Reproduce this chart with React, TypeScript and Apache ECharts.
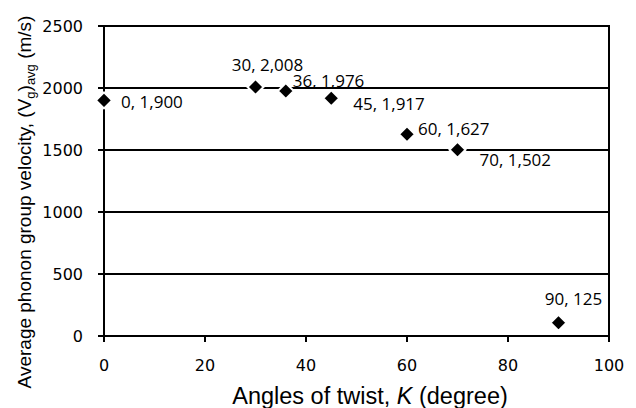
import React, { useEffect, useRef } from "react";
import * as echarts from "echarts";

const twistAngles = [0, 30, 36, 45, 60, 70, 90];
const groupVelocity = [1900, 2008, 1976, 1917, 1627, 1502, 107];
const pointLabels = ["0, 1,900", "30, 2,008", "36, 1,976", "45, 1,917", "60, 1,627", "70, 1,502", "90, 125"];
const xTicks = [0, 20, 40, 60, 80, 100];
const yTicks = [0, 500, 1000, 1500, 2000, 2500];

const labelPlacement: { position: string; offset: [number, number] }[] = [
  { position: "right", offset: [3, 1] },
  { position: "top", offset: [12, 0] },
  { position: "right", offset: [-7, -10] },
  { position: "right", offset: [8, 5] },
  { position: "right", offset: [-3, -6] },
  { position: "right", offset: [8, 10] },
  { position: "top", offset: [15, -2] },
];

export default function App() {
  const ref = useRef<HTMLDivElement>(null);
  useEffect(() => {
    if (!ref.current) return;
    const chart = echarts.init(ref.current, undefined, { renderer: "svg" });
    const data = twistAngles.map((x, i) => ({
      value: [x, groupVelocity[i]],
      label: {
        show: true,
        position: labelPlacement[i].position,
        offset: labelPlacement[i].offset,
        formatter: pointLabels[i],
      },
    }));
    chart.setOption({
      animation: false,
      backgroundColor: "#fff",
      grid: {
        left: 104,
        right: 27,
        top: 26,
        bottom: 72,
        show: true,
        borderColor: "#000",
        borderWidth: 2,
      },
      xAxis: {
        type: "value",
        min: xTicks[0],
        max: xTicks[xTicks.length - 1],
        interval: 20,
        axisLine: { show: true, onZero: false, lineStyle: { color: "#000", width: 2 } },
        axisTick: { show: true, length: 6, lineStyle: { color: "#000", width: 2 } },
        axisLabel: { color: "#000", fontFamily: "DejaVu Sans", fontSize: 16, margin: 21, formatter: (v: number) => String(v) },
        splitLine: { show: false },
      },
      yAxis: {
        type: "value",
        min: yTicks[0],
        max: yTicks[yTicks.length - 1],
        interval: 500,
        axisLine: { show: true, onZero: false, lineStyle: { color: "#000", width: 2 } },
        axisTick: { show: true, length: 6, lineStyle: { color: "#000", width: 2 } },
        axisLabel: { color: "#000", fontFamily: "DejaVu Sans", fontSize: 16, margin: 21, formatter: (v: number) => String(v) },
        splitLine: { show: true, lineStyle: { color: "#000", width: 2 } },
      },
      series: [
        {
          type: "scatter",
          symbol: "diamond",
          symbolSize: 16,
          itemStyle: { color: "#000", borderColor: "#fff", borderWidth: 2, opacity: 1 },
          label: {
            color: "#000",
            fontFamily: "Open Sans",
            fontSize: 17,
          },
          data,
          z: 5,
        },
      ],
      graphic: [
        {
          type: "text",
          x: 370,
          y: 396,
          style: {
            text: "Angles of twist, {i|K} (degree)",
            font: "23.5px 'Liberation Sans'",
            fill: "#000",
            textAlign: "center",
            textVerticalAlign: "middle",
            rich: {
              i: { fontStyle: "italic", fontSize: 23.5, fontFamily: "Liberation Sans", fill: "#000" },
            },
          },
        },
        {
          type: "text",
          x: 24,
          y: 202,
          rotation: Math.PI / 2,
          style: {
            text: "{m|Average phonon group velocity, (V}{s|g}{m|)}{s|avg}{m| (m/s)}",
            fill: "#000",
            textAlign: "center",
            textVerticalAlign: "middle",
            rich: {
              m: { fontSize: 19, fontFamily: "Liberation Sans", lineHeight: 26, verticalAlign: "middle", fill: "#000" },
              s: { fontSize: 13, fontFamily: "Liberation Sans", lineHeight: 13, verticalAlign: "bottom", fill: "#000" },
            },
          },
        },
      ],
    });
    return () => chart.dispose();
  }, []);
  return <div ref={ref} style={{ position: "fixed", left: 0, top: 0, width: 636, height: 408 }} />;
}
